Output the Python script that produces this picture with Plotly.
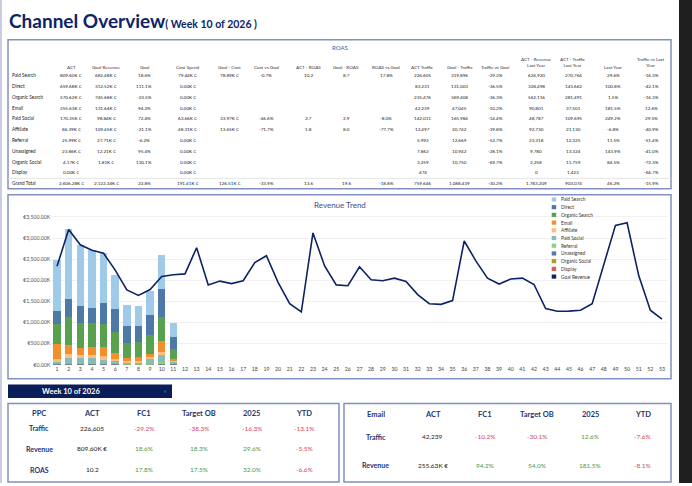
import plotly.graph_objects as go

W, H = 692, 486
def X(p): return p / W
def Y(p): return 1 - p / H

# ---------------- chart data (values in K €) ----------------
weeks = list(range(1, 54))
bar_weeks = list(range(1, 12))

paid_search    = [1202, 1670, 1445, 1366, 1178, 804, 516, 469, 562, 809.60, 335]
direct         = [320, 422, 413, 367, 500, 546, 398, 382, 476, 659.68, 274]
organic_search = [468, 656, 570, 555, 547, 492, 351, 352, 438, 570.62, 242]
email          = [345, 219, 188, 203, 226, 149, 78, 86, 86, 255.63, 28]
affiliate      = [65, 93, 62, 62, 86, 54, 32, 40, 31, 86.39, 30]
paid_social    = [50, 130, 130, 130, 85, 55, 30, 37, 120, 170.35, 55]
referral       = [10, 10, 12, 12, 12, 12, 8, 8, 10, 25.99, 8]
unassigned     = [10, 10, 8, 8, 8, 7, 5, 5, 6, 23.86, 8]
organic_social = [3, 4, 4, 4, 3, 3, 2, 2, 3, 4.17, 2]
display        = [2, 3, 3, 3, 2, 2, 2, 2, 2, 0, 2]

goal_revenue = [2330, 3200, 2840, 2710, 2640, 2240, 1770, 1640, 1780, 2090,
                2130, 2150, 2770, 1890, 1980, 1920, 1990, 2420, 2580, 1950,
                1445, 1250, 3120, 2340, 1890, 1870, 2320, 2010, 1990, 2050,
                1970, 1660, 1445, 1430, 1520, 2930, 2460, 2050, 1910, 2030,
                2050, 1900, 1330, 1265, 1270, 1290, 1445, 2380, 3300, 3360,
                2110, 1290, 1080]

y_tick_vals = [0, 500, 1000, 1500, 2000, 2500, 3000, 3500]
y_tick_text = ["€0.00K", "€500.00K", "€1,000.00K", "€1,500.00K", "€2,000.00K",
               "€2,500.00K", "€3,000.00K", "€3,500.00K"]

legend_names = ["Paid Search", "Direct", "Organic Search", "Email", "Affiliate",
                "Paid Social", "Referral", "Unassigned", "Organic Social", "Display",
                "Goal Revenue"]
legend_colors = ["#a0cbe8", "#4e79a7", "#59a14f", "#f28e2b", "#ffbe7d",
                 "#86bcb6", "#8cd17d", "#5778a4", "#b6992d", "#e15759", "#0d2366"]

# ---------------- top table data ----------------
channels = ["Paid Search", "Direct", "Organic Search", "Email", "Paid Social", "Affiliate",
            "Referral", "Unassigned", "Organic Social", "Display", "Grand Total"]
top_headers = ["ACT", "Goal Revenue", "Goal", "Cost Spend", "Goal - Cost", "Cost vs Goal",
               "ACT - ROAS", "Goal - ROAS", "ROAS vs Goal", "ACT Traffic", "Goal - Traffic",
               "Traffic vs Goal", "ACT - Revenue<br>Last Year", "ACT - Traffic<br>Last Year",
               "Last Year", "Traffic vs Last<br>Year"]
col_act = ["809.60K €", "659.68K €", "570.62K €", "255.63K €", "170.35K €", "86.39K €",
           "25.99K €", "23.86K €", "4.17K €", "0.00K €", "2,606.28K €"]
col_goal_revenue = ["682.48K €", "312.52K €", "745.68K €", "131.64K €", "98.84K €", "109.45K €",
                    "27.71K €", "12.21K €", "1.81K €", "", "2,122.34K €"]
col_goal = ["18.6%", "111.1%", "-23.5%", "94.2%", "72.4%", "-21.1%", "-6.2%", "95.4%",
            "130.1%", "", "22.8%"]
col_cost_spend = ["79.44K €", "0.00K €", "0.00K €", "0.00K €", "63.66K €", "48.31K €",
                  "0.00K €", "0.00K €", "0.00K €", "0.00K €", "191.41K €"]
col_goal_cost = ["78.89K €", "", "", "", "33.97K €", "13.65K €", "", "", "", "", "126.51K €"]
col_cost_vs_goal = ["-0.7%", "", "", "", "-46.6%", "-71.7%", "", "", "", "", "-33.9%"]
col_act_roas = ["10.2", "", "", "", "2.7", "1.8", "", "", "", "", "13.6"]
col_goal_roas = ["8.7", "", "", "", "2.9", "8.0", "", "", "", "", "19.6"]
col_roas_vs_goal = ["17.8%", "", "", "", "-8.0%", "-77.7%", "", "", "", "", "-18.8%"]
col_act_traffic = ["226,605", "83,231", "235,476", "42,239", "142,011", "12,497", "5,992",
                   "7,862", "3,259", "474", "759,646"]
col_goal_traffic = ["319,896", "131,003", "369,408", "47,045", "165,984", "20,742", "12,669",
                    "10,942", "10,750", "", "1,088,439"]
col_traffic_vs_goal = ["-29.2%", "-36.5%", "-36.3%", "-10.2%", "-14.4%", "-39.8%", "-52.7%",
                       "-28.1%", "-69.7%", "", "-30.2%"]
col_rev_ly = ["624,920", "328,498", "562,116", "90,801", "48,787", "92,730", "23,318",
              "9,780", "2,258", "0", "1,783,209"]
col_traffic_ly = ["270,764", "143,662", "281,491", "37,501", "109,695", "21,130", "12,325",
                  "13,324", "11,759", "1,423", "903,074"]
col_last_year = ["29.6%", "100.8%", "1.5%", "181.5%", "249.2%", "-6.8%", "11.5%", "143.9%",
                 "84.5%", "", "46.2%"]
col_traffic_vs_ly = ["-16.3%", "-42.1%", "-16.3%", "12.6%", "29.5%", "-40.9%", "-51.4%",
                     "-41.0%", "-72.3%", "-66.7%", "-15.9%"]

# ---------------- bottom KPI data ----------------
kpi_headers = ["ACT", "FC1", "Target OB", "2025", "YTD"]
ppc_metrics = ["Traffic", "Revenue", "ROAS"]
ppc_act = ["226,605", "809.60K €", "10.2"]
ppc_fc1 = [-29.2, 18.6, 17.8]
ppc_target = [-38.3, 18.3, 17.5]
ppc_2025 = [-16.3, 29.6, 32.0]
ppc_ytd = [-13.1, -5.5, -6.6]

email_metrics = ["Traffic", "Revenue"]
email_act = ["42,239", "255.63K €"]
email_fc1 = [-10.2, 94.2]
email_target = [-30.1, 54.0]
email_2025 = [12.6, 181.5]
email_ytd = [-7.6, -8.1]

# ---------------- figure ----------------
FONT = "Lato, 'Open Sans', sans-serif"
NAVY = "#0d2366"
BORDER = "#8091bf"

fig = go.Figure()

stack = [("Display", display), ("Organic Social", organic_social), ("Unassigned", unassigned),
         ("Referral", referral), ("Paid Social", paid_social), ("Affiliate", affiliate),
         ("Email", email), ("Organic Search", organic_search), ("Direct", direct),
         ("Paid Search", paid_search)]
for name, vals in stack:
    fig.add_trace(go.Bar(x=bar_weeks, y=vals, name=name,
                         marker=dict(color=legend_colors[legend_names.index(name)], line=dict(width=0)),
                         showlegend=False))
fig.add_trace(go.Scatter(x=weeks, y=goal_revenue, mode="lines", name="Goal Revenue",
                         line=dict(color=legend_colors[-1], width=1.6), showlegend=False))

shapes = []
def rect(x0, y0, x1, y1, line=None, lw=0, fill=None, layer="below"):
    shapes.append(dict(type="rect", xref="paper", yref="paper", x0=X(x0), x1=X(x1),
                       y0=Y(y1), y1=Y(y0), line=dict(color=line or "rgba(0,0,0,0)", width=lw),
                       fillcolor=fill or "rgba(0,0,0,0)", layer=layer))
def hline(x0, x1, y, color, lw):
    shapes.append(dict(type="line", xref="paper", yref="paper", x0=X(x0), x1=X(x1),
                       y0=Y(y), y1=Y(y), line=dict(color=color, width=lw), layer="below"))

rect(679, 0, 692, 486, fill="#1f1f1f")
shapes.append(dict(type="line", xref="paper", yref="paper", x0=X(1), x1=X(1), y0=0, y1=1,
                   line=dict(color="#c8cde0", width=2), layer="below"))
rect(8, 40, 671, 190, line=BORDER, lw=1.5, fill="white")
hline(8, 671, 179.5, "#dddddd", 0.8)
rect(8, 196, 671, 381, line=BORDER, lw=1.5, fill="white")
rect(8, 387, 172, 400.5, fill="#0b1d59")
rect(8, 406, 339, 485, line=BORDER, lw=1.5, fill="white")
rect(344, 406, 671, 485, line=BORDER, lw=1.5, fill="white")

# legend squares
leg_y0, leg_dy = 200.7, 7.76
for i, c in enumerate(legend_colors):
    yc = leg_y0 + i * leg_dy
    rect(551.7, yc - 2.1, 556.2, yc + 2.1, fill=c, layer="above")

annotations = []
def ann(x, y, text, size, color="#333", xanchor="center", yanchor="middle", bold=False):
    if bold:
        text = "<b>" + text + "</b>"
    annotations.append(dict(x=X(x), y=Y(y), xref="paper", yref="paper", text=text,
                            showarrow=False, xanchor=xanchor, yanchor=yanchor,
                            font=dict(size=size, color=color, family=FONT)))

# title
annotations.append(dict(x=X(7), y=Y(21), xref="paper", yref="paper", showarrow=False,
                        xanchor="left", yanchor="middle",
                        text="<b>Channel Overview</b><span style='font-size:10.5px'><b>( Week 10 of 2026 )</b></span>",
                        font=dict(size=19, color=NAVY, family=FONT)))

# top table
ann(340, 47.5, "ROAS", 6, "#3b5aa0")
col_x = [71, 106, 144, 188, 230, 266, 308, 346, 386, 423, 460, 495, 536, 573, 613, 651]
cols = [col_act, col_goal_revenue, col_goal, col_cost_spend, col_goal_cost, col_cost_vs_goal,
        col_act_roas, col_goal_roas, col_roas_vs_goal, col_act_traffic, col_goal_traffic,
        col_traffic_vs_goal, col_rev_ly, col_traffic_ly, col_last_year, col_traffic_vs_ly]
row_y = [75.3, 86.3, 97.3, 108.3, 119, 130, 140.7, 151.7, 163, 173.3, 184]
for hx, h in zip(col_x, top_headers):
    ann(hx, 62 if "<br>" in h else 67, h, 4.6, "#333")
for ry, ch in zip(row_y, channels):
    ann(10, ry, ch, 4.7, "#222", xanchor="left")
for cx, col in zip(col_x, cols):
    for ry, v in zip(row_y, col):
        if v != "":
            ann(cx, ry, v, 4.6, "#222")

# chart title and legend text
ann(340, 206, "Revenue Trend", 8, "#3b4f8a")
for i, n in enumerate(legend_names):
    ann(559, leg_y0 + i * leg_dy, n, 4.8, "#333", xanchor="left")

# bottom
ann(71, 393.7, "Week 10 of 2026", 7.5, "white", bold=True)
ann(165, 393.7, "»", 5, "#8ea0d0")

RED, GREEN = "#d6455d", "#4c9a50"
def pct(v):
    return f"{v:.1f}%"

ppc_x = [39, 92.3, 144, 198.7, 251.7, 304]
ann(ppc_x[0], 416, "PPC", 7.5, "#1f3470", bold=True)
for hx, h in zip(ppc_x[1:], kpi_headers):
    ann(hx, 416, h, 7.5, "#1f3470", bold=True)
ppc_y = [431, 451.7, 472.7]
for i, ry in enumerate(ppc_y):
    ann(ppc_x[0], ry, ppc_metrics[i], 7, "#1f3470", bold=True)
    ann(ppc_x[1], ry, ppc_act[i], 6.5, "#222")
    for cx, arr in zip(ppc_x[2:], [ppc_fc1, ppc_target, ppc_2025, ppc_ytd]):
        ann(cx, ry, pct(arr[i]), 6.5, GREEN if arr[i] >= 0 else RED)

em_x = [376, 432.7, 485, 537.3, 590, 642.7]
ann(em_x[0], 417.3, "Email", 7.5, "#1f3470", bold=True)
for hx, h in zip(em_x[1:], kpi_headers):
    ann(hx, 417.3, h, 7.5, "#1f3470", bold=True)
em_y = [439.3, 468.3]
for i, ry in enumerate(em_y):
    ann(em_x[0], ry, email_metrics[i], 7, "#1f3470", bold=True)
    ann(em_x[1], ry, email_act[i], 6.5, "#222")
    for cx, arr in zip(em_x[2:], [email_fc1, email_target, email_2025, email_ytd]):
        ann(cx, ry, pct(arr[i]), 6.5, GREEN if arr[i] >= 0 else RED)

fig.update_layout(
    width=W, height=H, margin=dict(l=0, r=0, t=0, b=0),
    paper_bgcolor="white", plot_bgcolor="rgba(0,0,0,0)",
    barmode="stack", bargap=0.36, showlegend=False,
    shapes=shapes, annotations=annotations,
    xaxis=dict(domain=[X(51.2), X(667.8)], range=[0.5, 53.5], tickmode="array",
               tickvals=weeks, ticktext=[str(w) for w in weeks], showgrid=False,
               zeroline=False, showline=False, ticks="",
               tickfont=dict(size=5.2, color="#444", family=FONT), fixedrange=True),
    yaxis=dict(domain=[Y(367), Y(205.5)], range=[0, 3800], tickmode="array",
               tickvals=y_tick_vals, ticktext=y_tick_text, showgrid=True,
               gridcolor="#f0f0f0", gridwidth=0.8, zeroline=False, showline=False,
               tickfont=dict(size=5.2, color="#555", family=FONT), fixedrange=True),
)

fig.write_html("out.html")
